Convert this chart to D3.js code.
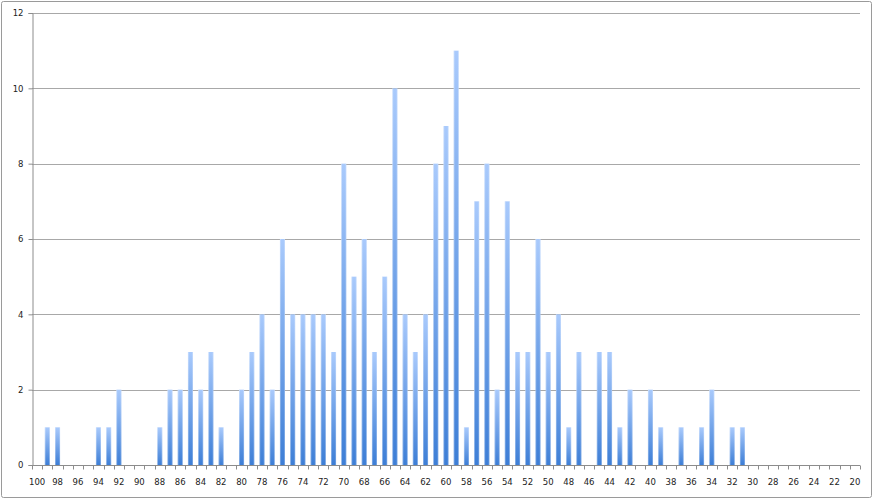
<!DOCTYPE html>
<html>
<head>
<meta charset="utf-8">
<script src="https://cdn.jsdelivr.net/npm/d3@7"></script>
<style>
html,body{margin:0;padding:0;background:#fff;}
svg{display:block;}
text{font-family:"DejaVu Sans",Verdana,sans-serif;font-size:8.5px;fill:#222;}
</style>
</head>
<body>
<svg id="chart" width="873" height="499"></svg>
<script>
// Categories from 100 down to 20
const categories = [100,99,98,97,96,95,94,93,92,91,90,89,88,87,86,85,84,83,82,81,80,79,78,77,76,75,74,73,72,71,70,69,68,67,66,65,64,63,62,61,60,59,58,57,56,55,54,53,52,51,50,49,48,47,46,45,44,43,42,41,40,39,38,37,36,35,34,33,32,31,30,29,28,27,26,25,24,23,22,21,20];
const counts = [0,1,1,0,0,0,1,1,2,0,0,0,1,2,2,3,2,3,1,0,2,3,4,2,6,4,4,4,4,3,8,5,6,3,5,10,4,3,4,8,9,11,1,7,8,2,7,3,3,6,3,4,1,3,0,3,3,1,2,0,2,1,0,1,0,1,2,0,1,1,0,0,0,0,0,0,0,0,0,0,0];
const xTickLabels = [100,98,96,94,92,90,88,86,84,82,80,78,76,74,72,70,68,66,64,62,60,58,56,54,52,50,48,46,44,42,40,38,36,34,32,30,28,26,24,22,20];
const yTicks = [0,2,4,6,8,10,12];

const svg = d3.select("#chart");
const W = 873, H = 499;
const m = {left:32, right:13, top:13, bottom:34};
const iw = W - m.left - m.right, ih = H - m.top - m.bottom;

// Outer border
svg.append("rect").attr("x",1.5).attr("y",1.5).attr("width",W-3).attr("height",H-3)
  .attr("rx",2).attr("fill","#fff").attr("stroke","#9a9a9a").attr("stroke-width",1);

const defs = svg.append("defs");
const grad = defs.append("linearGradient").attr("id","barGrad")
  .attr("x1",0).attr("y1",0).attr("x2",0).attr("y2",1);
grad.append("stop").attr("offset","0%").attr("stop-color","#a9cafc");
grad.append("stop").attr("offset","100%").attr("stop-color","#3d7ed6");
const gradH = defs.append("linearGradient").attr("id","barEdge")
  .attr("x1",0).attr("y1",0).attr("x2",1).attr("y2",0);
gradH.append("stop").attr("offset","0%").attr("stop-color","#ffffff").attr("stop-opacity",0.45);
gradH.append("stop").attr("offset","25%").attr("stop-color","#ffffff").attr("stop-opacity",0);
gradH.append("stop").attr("offset","75%").attr("stop-color","#ffffff").attr("stop-opacity",0);
gradH.append("stop").attr("offset","100%").attr("stop-color","#ffffff").attr("stop-opacity",0.35);

const g = svg.append("g").attr("transform",`translate(${m.left},${m.top})`);

const x = d3.scaleBand().domain(categories).range([0, iw]).paddingInner(0).paddingOuter(0);
const y = d3.scaleLinear().domain([0,12]).range([ih,0]);

// Gridlines
g.append("g").selectAll("line").data(yTicks.filter(d=>d>0)).join("line")
  .attr("x1",0).attr("x2",iw)
  .attr("y1",d=>Math.round(y(d))+0.5).attr("y2",d=>Math.round(y(d))+0.5)
  .attr("stroke","#a8a8a8").attr("stroke-width",1);

// Bars
const data = categories.map((c,i)=>({c, v: counts[i]}));
const bw = 5;
const bars = g.append("g");
bars.selectAll("rect.b").data(data.filter(d=>d.v>0)).join("rect").attr("class","b")
  .attr("x",d=>x(d.c)+x.bandwidth()/2-bw/2)
  .attr("y",d=>y(d.v)).attr("width",bw).attr("height",d=>ih-y(d.v))
  .attr("fill","url(#barGrad)");
bars.selectAll("rect.e").data(data.filter(d=>d.v>0)).join("rect").attr("class","e")
  .attr("x",d=>x(d.c)+x.bandwidth()/2-bw/2)
  .attr("y",d=>y(d.v)).attr("width",bw).attr("height",d=>ih-y(d.v))
  .attr("fill","url(#barEdge)");

// Y axis
const yAxis = d3.axisLeft(y).tickValues(yTicks).tickSize(4).tickPadding(5).tickFormat(d3.format("d"));
const ya = g.append("g").attr("transform","translate(0.5,0)").call(yAxis);
ya.select(".domain").attr("stroke","#8c8c8c");
ya.selectAll(".tick line").attr("stroke","#8c8c8c");
ya.selectAll("text").style("font-size","8.5px").style("fill","#222");

// X axis: ticks at category boundaries, labels every 2
const xa = g.append("g").attr("transform",`translate(0,${Math.round(ih)+0.5})`);
xa.append("line").attr("x1",0).attr("x2",iw).attr("stroke","#8c8c8c");
const bounds = categories.map(c=>x(c)).concat([iw]);
xa.selectAll("line.t").data(bounds).join("line").attr("class","t")
  .attr("x1",d=>Math.round(d)+0.5).attr("x2",d=>Math.round(d)+0.5)
  .attr("y1",0).attr("y2",4).attr("stroke","#8c8c8c");
xa.selectAll("text").data(xTickLabels).join("text")
  .attr("x",d=>x(d)+x.bandwidth()/2).attr("y",19)
  .attr("text-anchor","middle").text(d=>d);
</script>
</body>
</html>
